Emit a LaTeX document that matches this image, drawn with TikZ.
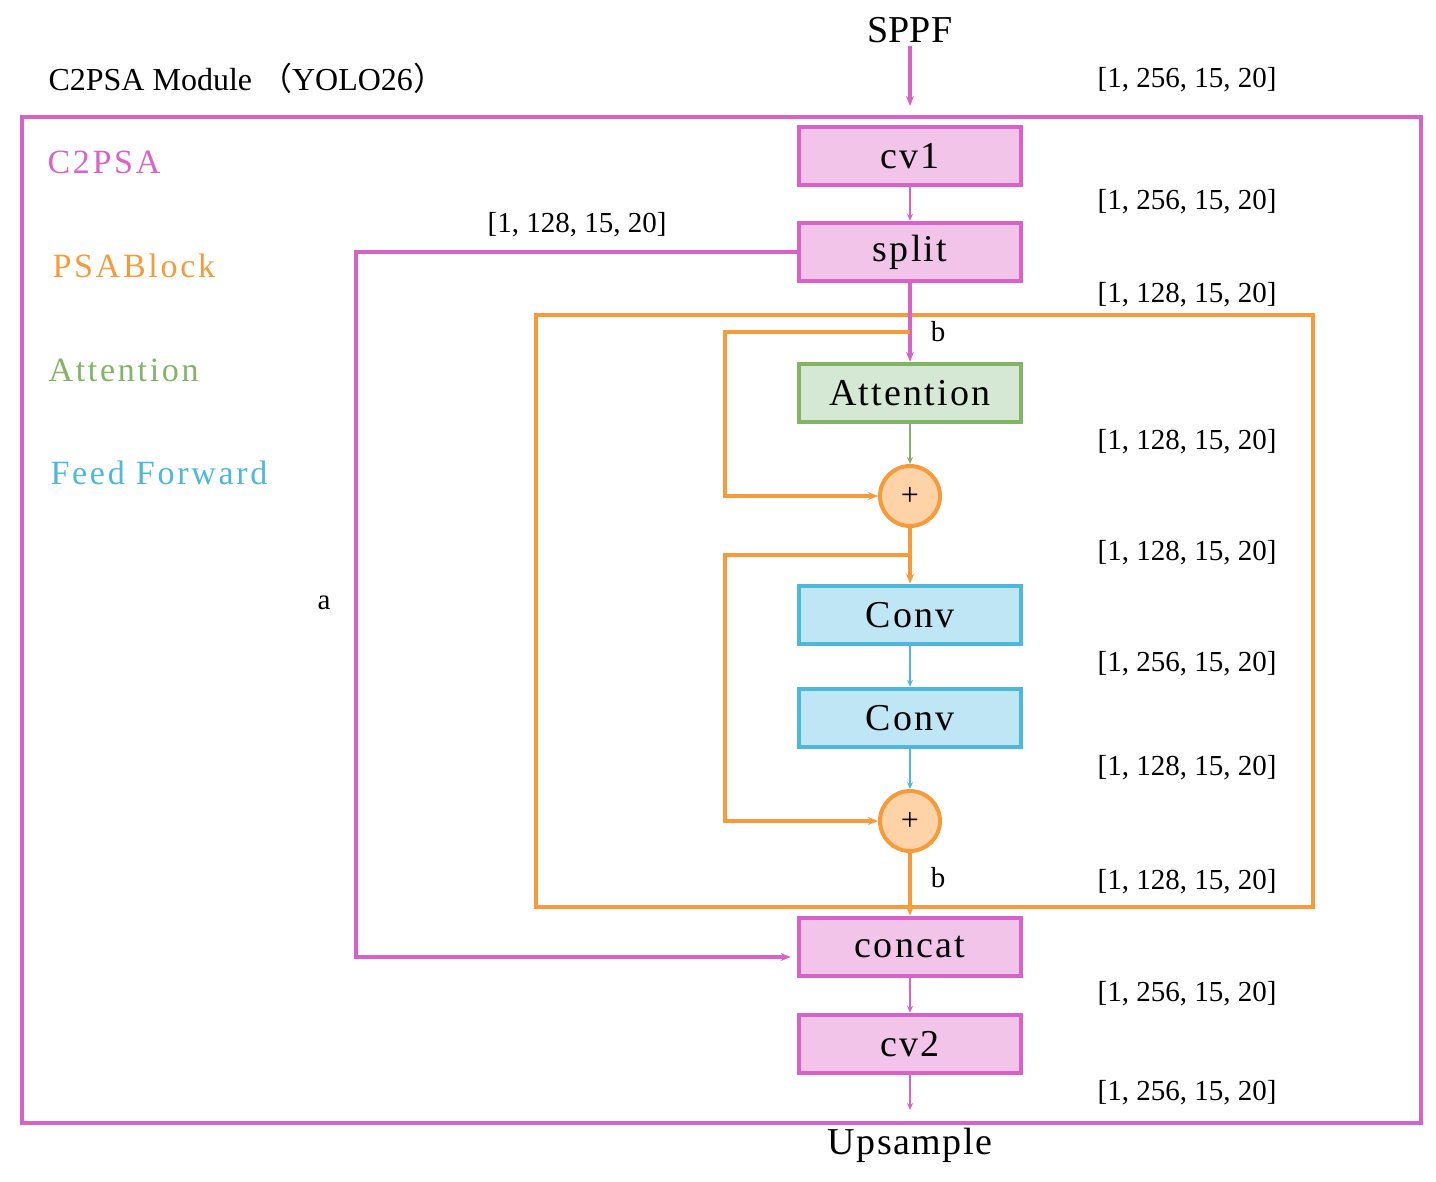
\documentclass[tikz,border=0pt]{standalone}
\usepackage{fontspec}
\setmainfont{Liberation Serif}
\newfontfamily\cjk{Noto Sans CJK SC}
\usetikzlibrary{arrows.meta}
\definecolor{pk}{HTML}{D962C9}\definecolor{pkf}{HTML}{F2C4EA}
\definecolor{gr}{HTML}{82B366}\definecolor{grf}{HTML}{D5E8D4}
\definecolor{bl}{HTML}{4DB8DC}\definecolor{blf}{HTML}{BFE6F5}
\definecolor{or}{HTML}{F79B3A}\definecolor{orf}{HTML}{FFD3A8}
\begin{document}
\begin{tikzpicture}[x=1pt,y=-1pt,
 box/.style={draw=#1,fill=#1f,line width=4.5pt,minimum width=222pt,minimum height=58pt,inner sep=0pt,font=\fontsize{38}{42}\selectfont\addfontfeature{LetterSpace=6}},
 dim/.style={font=\fontsize{29}{32}\selectfont},
 lab/.style={anchor=west,font=\fontsize{34}{38}\selectfont\addfontfeature{LetterSpace=8}},
 thin/.style={->,>={Stealth[length=7pt,width=6pt]},line width=1.2pt},
 thick/.style={->,>={Stealth[length=10pt,width=8pt]},line width=3.5pt},
 plus/.style={circle,draw=or,fill=orf,line width=4pt,minimum size=60pt,inner sep=0pt,font=\fontsize{32}{36}\selectfont}]
\useasboundingbox (0,0) rectangle (1436,1182);
\draw[pk,line width=4.5pt] (22,117) rectangle (1421,1123);
\draw[or,line width=4.5pt] (536,315) rectangle (1313,907);
\node[box=pk] (cv1) at (910,156) {cv1};
\node[box=pk] (split) at (910,252) {split};
\node[box=gr] (att) at (910,393) {Attention};
\node[plus] (p1) at (910,496) {+};
\node[box=bl] (c1) at (910,615) {Conv};
\node[box=bl] (c2) at (910,718) {Conv};
\node[plus] (p2) at (910,821) {+};
\node[box=pk] (cat) at (910,947) {concat};
\node[box=pk] (cv2) at (910,1044) {cv2};
\node[font=\fontsize{38}{42}\selectfont] (sppf) at (910,30) {SPPF};
\node[font=\fontsize{38}{42}\selectfont\addfontfeature{LetterSpace=4}] (up) at (910,1145) {Upsample};
\coordinate (inB) at (910,332);
\coordinate (outB) at (910,555);
\draw[pk,thick] (sppf) -- (910,106);
\draw[pk,thin] (cv1) -- (split);
\draw[pk,thick] (split) -- (att);
\draw[gr,thin] (att) -- (p1);
\draw[or,thick] (p1) -- (c1);
\draw[bl,thin] (c1) -- (c2);
\draw[bl,thin] (c2) -- (p2);
\draw[or,thick] (p2) -- (cat);
\draw[pk,thin] (cat) -- (cv2);
\draw[pk,thin] (cv2) -- (910,1110);
\draw[or,thick] (inB) -- (725,332) -- (725,496) -- (p1);
\draw[or,thick] (outB) -- (725,555) -- (725,821) -- (p2);
\draw[pk,thick] (split.west) -- (356,252) -- (356,957) -- ([xshift=-6pt]cat.west|-0,957);
\node[dim] (b1) at (938,332) {b};
\node[dim] (b2) at (938,878) {b};
\node[dim] (a) at (324,603) {a};
\node[dim] (d0) at (577,225) {[1, 128, 15, 20]};
\foreach \y/\t in {80/256,202/256,295/128,442/128,553/128,664/256,768/128,882/128,994/256,1093/256}
 \node[dim] at (1187,\y) {[1, \t, 15, 20]};
\node[anchor=west,font=\fontsize{32}{38}\selectfont] (title) at (45,78) {C2PSA Module {\cjk（}YOLO26{\cjk）}};
\node[lab,text=pk] (l1) at (44,162) {C2PSA};
\node[lab,text=or] (l2) at (49,266) {PSABlock};
\node[lab,text=gr] (l3) at (45,370) {Attention};
\node[lab,text=bl] (l4) at (47,473) {Feed Forward};
\end{tikzpicture}
\end{document}
